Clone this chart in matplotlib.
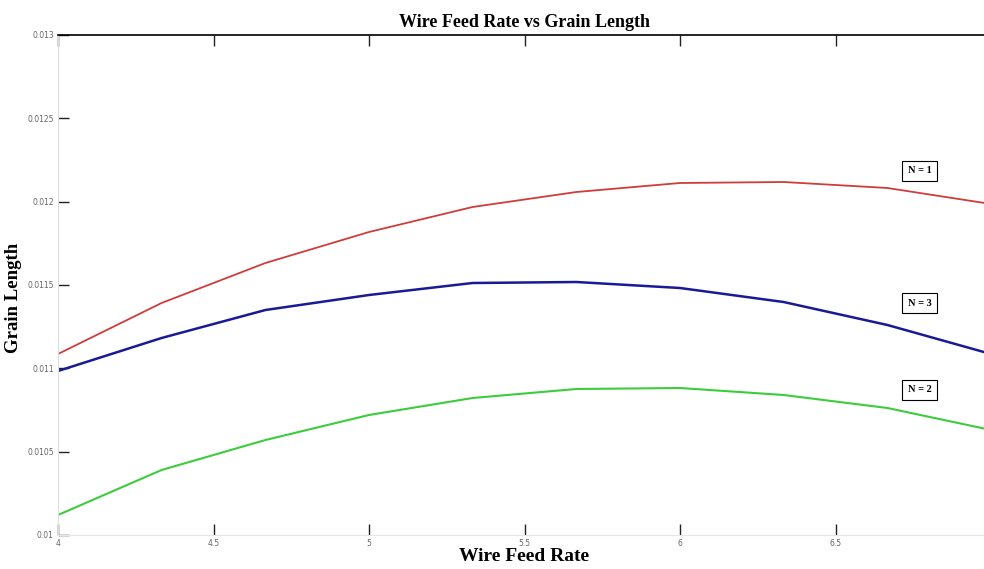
import matplotlib
matplotlib.use("Agg")
import matplotlib.pyplot as plt

wire_feed_rate = [4.0, 4.333, 4.667, 5.0, 5.333, 5.667, 6.0, 6.333, 6.667, 7.0]
grain_n1 = [0.011086, 0.011392, 0.011632, 0.011818, 0.011968, 0.012058, 0.012112, 0.012118, 0.012082, 0.011986]
grain_n3 = [0.010984, 0.011182, 0.011350, 0.011440, 0.011512, 0.011518, 0.011482, 0.011398, 0.011260, 0.011086]
grain_n2 = [0.010120, 0.010390, 0.010570, 0.010720, 0.010822, 0.010876, 0.010882, 0.010840, 0.010762, 0.010630]

x_ticks = [4, 4.5, 5, 5.5, 6, 6.5]
x_tick_labels = ["4", "4.5", "5", "5.5", "6", "6.5"]
y_ticks = [0.01, 0.0105, 0.011, 0.0115, 0.012, 0.0125, 0.013]
y_tick_labels = ["0.01", "0.0105", "0.011", "0.0115", "0.012", "0.0125", "0.013"]

labels = ["N = 1", "N = 3", "N = 2"]
label_pos = [(6.77, 0.012184), (6.77, 0.011392), (6.77, 0.01087)]

W, H = 984, 569
fig = plt.figure(figsize=(W / 100, H / 100), dpi=100)
left, right, top, bottom = 58, 991, 35, 535
ax = fig.add_axes([left / W, 1 - bottom / H, (right - left) / W, (bottom - top) / H])

ax.plot(wire_feed_rate, grain_n1, color="#d03c3c", lw=1.3)
ax.plot(wire_feed_rate, grain_n3, color="#1a1a96", lw=1.8)
ax.plot(wire_feed_rate, grain_n2, color="#3ccc3c", lw=1.5)

ax.set_xlim(4, 7)
ax.set_ylim(0.01, 0.013)
ax.set_xticks(x_ticks)
ax.set_xticklabels(x_tick_labels)
ax.set_yticks(y_ticks)
ax.set_yticklabels(y_tick_labels)

ax.tick_params(axis="both", direction="in", length=8, width=1, colors="#222222",
               labelcolor="#666666", labelsize=5.5, top=True, right=False)
ax.tick_params(axis="x", pad=3)
ax.tick_params(axis="y", pad=3)

ax.spines["top"].set_color("black")
ax.spines["top"].set_linewidth(1.2)
ax.spines["left"].set_color("#dddddd")
ax.spines["bottom"].set_color("#e6e6e6")
ax.spines["right"].set_visible(False)

serif = ["Liberation Serif", "DejaVu Serif"]
ax.set_title("Wire Feed Rate vs Grain Length", fontfamily=serif, fontweight="bold",
             fontsize=13, pad=6)
ax.set_xlabel("Wire Feed Rate", fontfamily=serif, fontweight="bold", fontsize=14, labelpad=0)
fig.text(14 / W, 1 - 298 / H, "Grain Length", rotation=90, ha="center", va="center",
         fontfamily=serif, fontweight="bold", fontsize=13.5)

for txt, (px, py) in zip(labels, label_pos):
    ax.text(px, py, txt, ha="center", va="center", fontfamily=serif, fontweight="bold",
            fontsize=7.5, bbox=dict(boxstyle="square,pad=0.55", fc="white", ec="black", lw=0.8))

fig.savefig("out.png", dpi=100)
